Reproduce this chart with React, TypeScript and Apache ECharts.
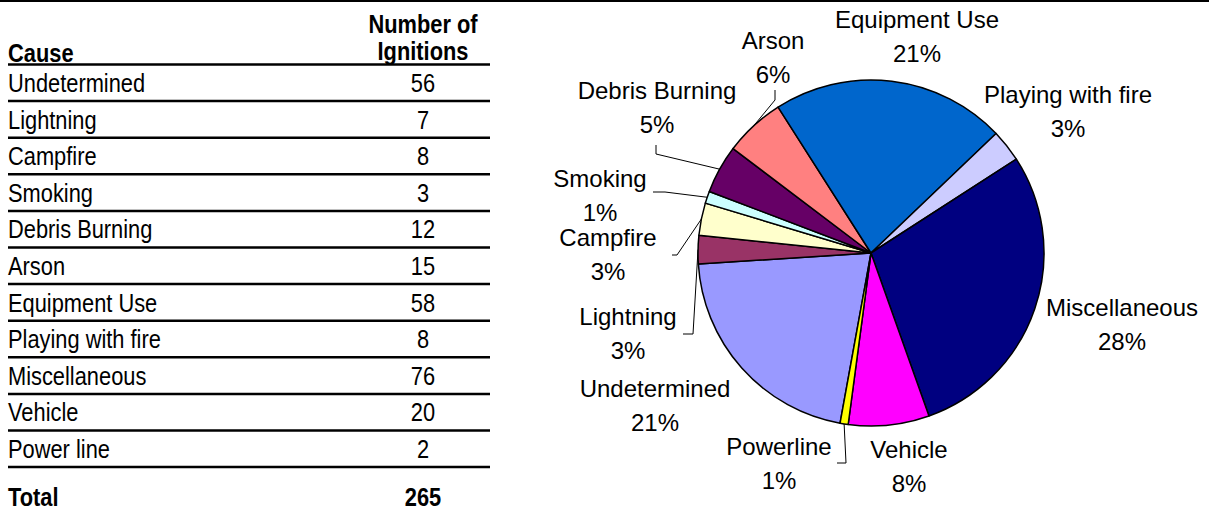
import React, { useEffect, useRef } from 'react';
import * as echarts from 'echarts';

// ---------- data ----------
const causes = ['Undetermined', 'Lightning', 'Campfire', 'Smoking', 'Debris Burning', 'Arson', 'Equipment Use', 'Playing with fire', 'Miscellaneous', 'Vehicle', 'Power line'];
const ignitions = [56, 7, 8, 3, 12, 15, 58, 8, 76, 20, 2];
const pieNames = ['Undetermined', 'Lightning', 'Campfire', 'Smoking', 'Debris Burning', 'Arson', 'Equipment Use', 'Playing with fire', 'Miscellaneous', 'Vehicle', 'Powerline'];
const pieLabelPercents = [21, 3, 3, 1, 5, 6, 21, 3, 28, 8, 1];
const sliceColors = ['#9999FF', '#993366', '#FFFFCC', '#CCFFFF', '#660066', '#FF8080', '#0066CC', '#CCCCFF', '#000080', '#FF00FF', '#FFFF00'];
const headerCause = 'Cause';
const headerCount = ['Number of', 'Ignitions'];
const totalLabel = 'Total';

// ---------- layout ----------
const W = 1209;
const H = 512;
const PIE_CX = 871;
const PIE_CY = 253;
const PIE_R = 173;
const START_ANGLE = 259.7;
const labelCenters: number[][] = [
  [655, 405], [628, 333], [608, 254], [600, 195], [657, 107], [773, 57],
  [917, 36], [1068, 111], [1122, 324], [909, 466], [779, 463],
];
const leaderBends: (number[][] | null)[] = [
  null,
  [[693, 334], [683, 334]],
  [[677, 255], [672, 255]],
  [[665, 192], [653, 192]],
  [[656, 154], [656, 145]],
  [[775, 100], [775, 90]],
  null, null, null, null,
  [[846, 463], [837, 463]],
];

const TABLE_X0 = 8;
const TABLE_X1 = 490;
const NUM_X = 423;
const HEADER_LINE = 64.5;
const ROW_H = 36.6;
const TOTAL_Y = 497;
const NARROW = 0.84;
const TABLE_FONT = "'Liberation Sans', Arial, sans-serif";
const PIE_FONT = "'Liberation Sans', Arial, sans-serif";

function edgePoint(i: number): number[] {
  const total = ignitions.reduce((a, b) => a + b, 0);
  let before = 0;
  for (let k = 0; k < i; k++) before += ignitions[k];
  const midFrac = (before + ignitions[i] / 2) / total;
  const ang = ((START_ANGLE - midFrac * 360) * Math.PI) / 180;
  return [PIE_CX + PIE_R * Math.cos(ang), PIE_CY - PIE_R * Math.sin(ang)];
}

function buildTable(): any[] {
  const els: any[] = [];
  const line = (x1: number, y1: number, x2: number, y2: number, w: number) => ({
    type: 'line',
    shape: { x1, y1, x2, y2 },
    style: { stroke: '#000', lineWidth: w },
    silent: true,
  });
  const text = (t: string, x: number, y: number, align: string, bold: boolean) => ({
    type: 'text',
    x,
    y,
    scaleX: NARROW,
    style: {
      text: t,
      fill: '#000',
      fontSize: 26,
      lineHeight: 27,
      fontFamily: TABLE_FONT,
      fontWeight: bold ? 'bold' : 'normal',
      align,
      verticalAlign: 'middle',
    },
    silent: true,
  });
  // top border of the page
  els.push(line(0, 1, W, 1, 2));
  // header
  els.push(text(headerCause, TABLE_X0, 53, 'left', true));
  els.push(text(headerCount.join('\n'), NUM_X, 37, 'center', true));
  els.push(line(TABLE_X0, HEADER_LINE, TABLE_X1, HEADER_LINE, 2.5));
  causes.forEach((c, i) => {
    const cy = HEADER_LINE + ROW_H * (i + 0.5);
    els.push(text(c, TABLE_X0, cy, 'left', false));
    els.push(text(String(ignitions[i]), NUM_X, cy, 'center', false));
    const ly = HEADER_LINE + ROW_H * (i + 1);
    els.push(line(TABLE_X0, ly, TABLE_X1, ly, 2.5));
  });
  const total = ignitions.reduce((a, b) => a + b, 0);
  els.push(text(totalLabel, TABLE_X0, TOTAL_Y, 'left', true));
  els.push(text(String(total), NUM_X, TOTAL_Y, 'center', true));
  return els;
}

export default function App() {
  const ref = useRef<HTMLDivElement>(null);
  useEffect(() => {
    if (!ref.current) return;
    const chart = echarts.init(ref.current, undefined, { renderer: 'svg' });
    const data = pieNames.map((n, i) => ({
      name: n,
      value: ignitions[i],
      itemStyle: { color: sliceColors[i] },
      labelLine: { show: leaderBends[i] != null },
    }));
    chart.setOption({
      animation: false,
      backgroundColor: '#fff',
      graphic: buildTable(),
      series: [
        {
          type: 'pie',
          center: [PIE_CX, PIE_CY],
          radius: PIE_R,
          startAngle: START_ANGLE,
          clockwise: true,
          avoidLabelOverlap: false,
          data,
          itemStyle: { borderColor: '#000', borderWidth: 1.5 },
          emphasis: { disabled: true },
          label: {
            show: true,
            position: 'outside',
            color: '#000',
            fontFamily: PIE_FONT,
            fontSize: 24,
            lineHeight: 34,
            align: 'center',
            formatter: (p: any) => `${p.name}\n${pieLabelPercents[p.dataIndex]}%`,
          },
          labelLine: {
            show: true,
            length: 10,
            length2: 10,
            lineStyle: { color: '#000', width: 1 },
          },
          labelLayout: (p: any) => {
            const i = p.dataIndex;
            const c = labelCenters[i];
            const out: any = { x: c[0], y: c[1], align: 'center', verticalAlign: 'middle' };
            const b = leaderBends[i];
            if (b) out.labelLinePoints = [edgePoint(i), b[0], b[1]];
            return out;
          },
        },
      ],
    });
    return () => chart.dispose();
  }, []);
  return <div ref={ref} style={{ position: 'absolute', left: 0, top: 0, width: W, height: H }} />;
}
